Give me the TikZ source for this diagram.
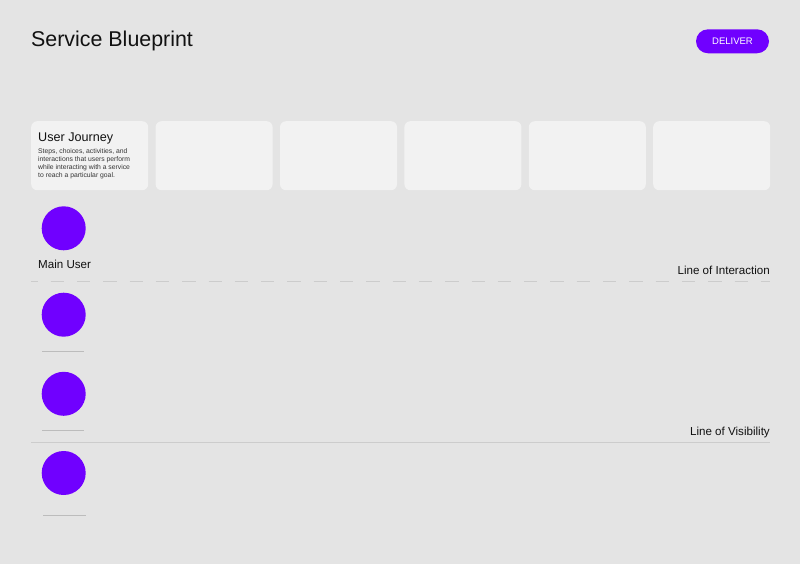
\documentclass[tikz,border=0pt]{standalone}
\usepackage{fontspec}
\setmainfont{Liberation Sans}
\definecolor{bg}{HTML}{E4E4E4}
\definecolor{card}{HTML}{F2F2F2}
\definecolor{violet}{HTML}{7000FF}
\definecolor{rule}{HTML}{CCCCCC}
\definecolor{ink}{HTML}{111111}
\begin{document}
\begin{tikzpicture}[x=1pt,y=-1pt,
  cardbox/.style={fill=card,rounded corners=6pt,minimum width=117pt,minimum height=69pt,inner sep=0pt,anchor=north west},
  avatar/.style={circle,fill=violet,minimum size=44pt,inner sep=0pt},
  label/.style={text=ink,inner sep=0pt,font=\fontsize{11.6}{13}\selectfont},
  rulel/.style={draw=rule,line width=0.9pt},
  shortrule/.style={draw=rule!92!black,line width=0.8pt}]
\fill[bg] (0,0) rectangle (800,564);
\useasboundingbox (0,0) rectangle (800,564);
% title
\node[anchor=base west,inner sep=0pt,text=ink,font=\fontsize{21.4}{24}\selectfont] (title) at (31,46.7) {Service Blueprint};
% pill
\node[fill=violet,rounded corners=12pt,minimum width=73pt,minimum height=24pt,inner sep=0pt,text=white,font=\fontsize{9.5}{11}\selectfont] (deliver) at (732.5,41.3) {DELIVER};
% cards
\foreach \i in {0,...,5}{
  \node[cardbox] (card\i) at ({31+124.4*\i},121) {};
}
\node[anchor=base west,inner sep=0pt,text=ink,font=\fontsize{12.6}{14}\selectfont] (uj) at (38,141.7) {User Journey};
\node[anchor=north west,inner sep=0pt,text=ink!85,align=left,font=\fontsize{6.8}{8.1}\selectfont] (ujdesc) at (38,148.4) {Steps, choices, activities, and\\interactions that users perform\\while interacting with a service\\to reach a particular goal.};
% avatars
\node[avatar] (a1) at (63.7,228.3) {};
\node[avatar] (a2) at (63.7,314.7) {};
\node[avatar] (a3) at (63.7,393.8) {};
\node[avatar] (a4) at (63.7,473) {};
\node[label,anchor=base west] (mainuser) at (38,268.3) {Main User};
% line of interaction
\coordinate (li1) at (31,281);
\coordinate (li2) at (770,281);
\draw[rulel,dash pattern=on 13.3pt off 13pt,dash phase=6.6pt] (li1) -- (li2);
\node[label,anchor=base east] (loi) at (770,274) {Line of Interaction};
% short rules
\coordinate (s2a) at (42,351.3); \coordinate (s2b) at (84.3,351.3);
\coordinate (s3a) at (42,430.3); \coordinate (s3b) at (84.3,430.3);
\coordinate (s4a) at (43.3,515); \coordinate (s4b) at (85.7,515);
\draw[shortrule] (s2a) -- (s2b);
\draw[shortrule] (s3a) -- (s3b);
\draw[shortrule] (s4a) -- (s4b);
% line of visibility
\coordinate (lv1) at (31,442.7);
\coordinate (lv2) at (770,442.7);
\draw[rulel] (lv1) -- (lv2);
\node[label,anchor=base east] (lov) at (770,435.3) {Line of Visibility};
\end{tikzpicture}
\end{document}
